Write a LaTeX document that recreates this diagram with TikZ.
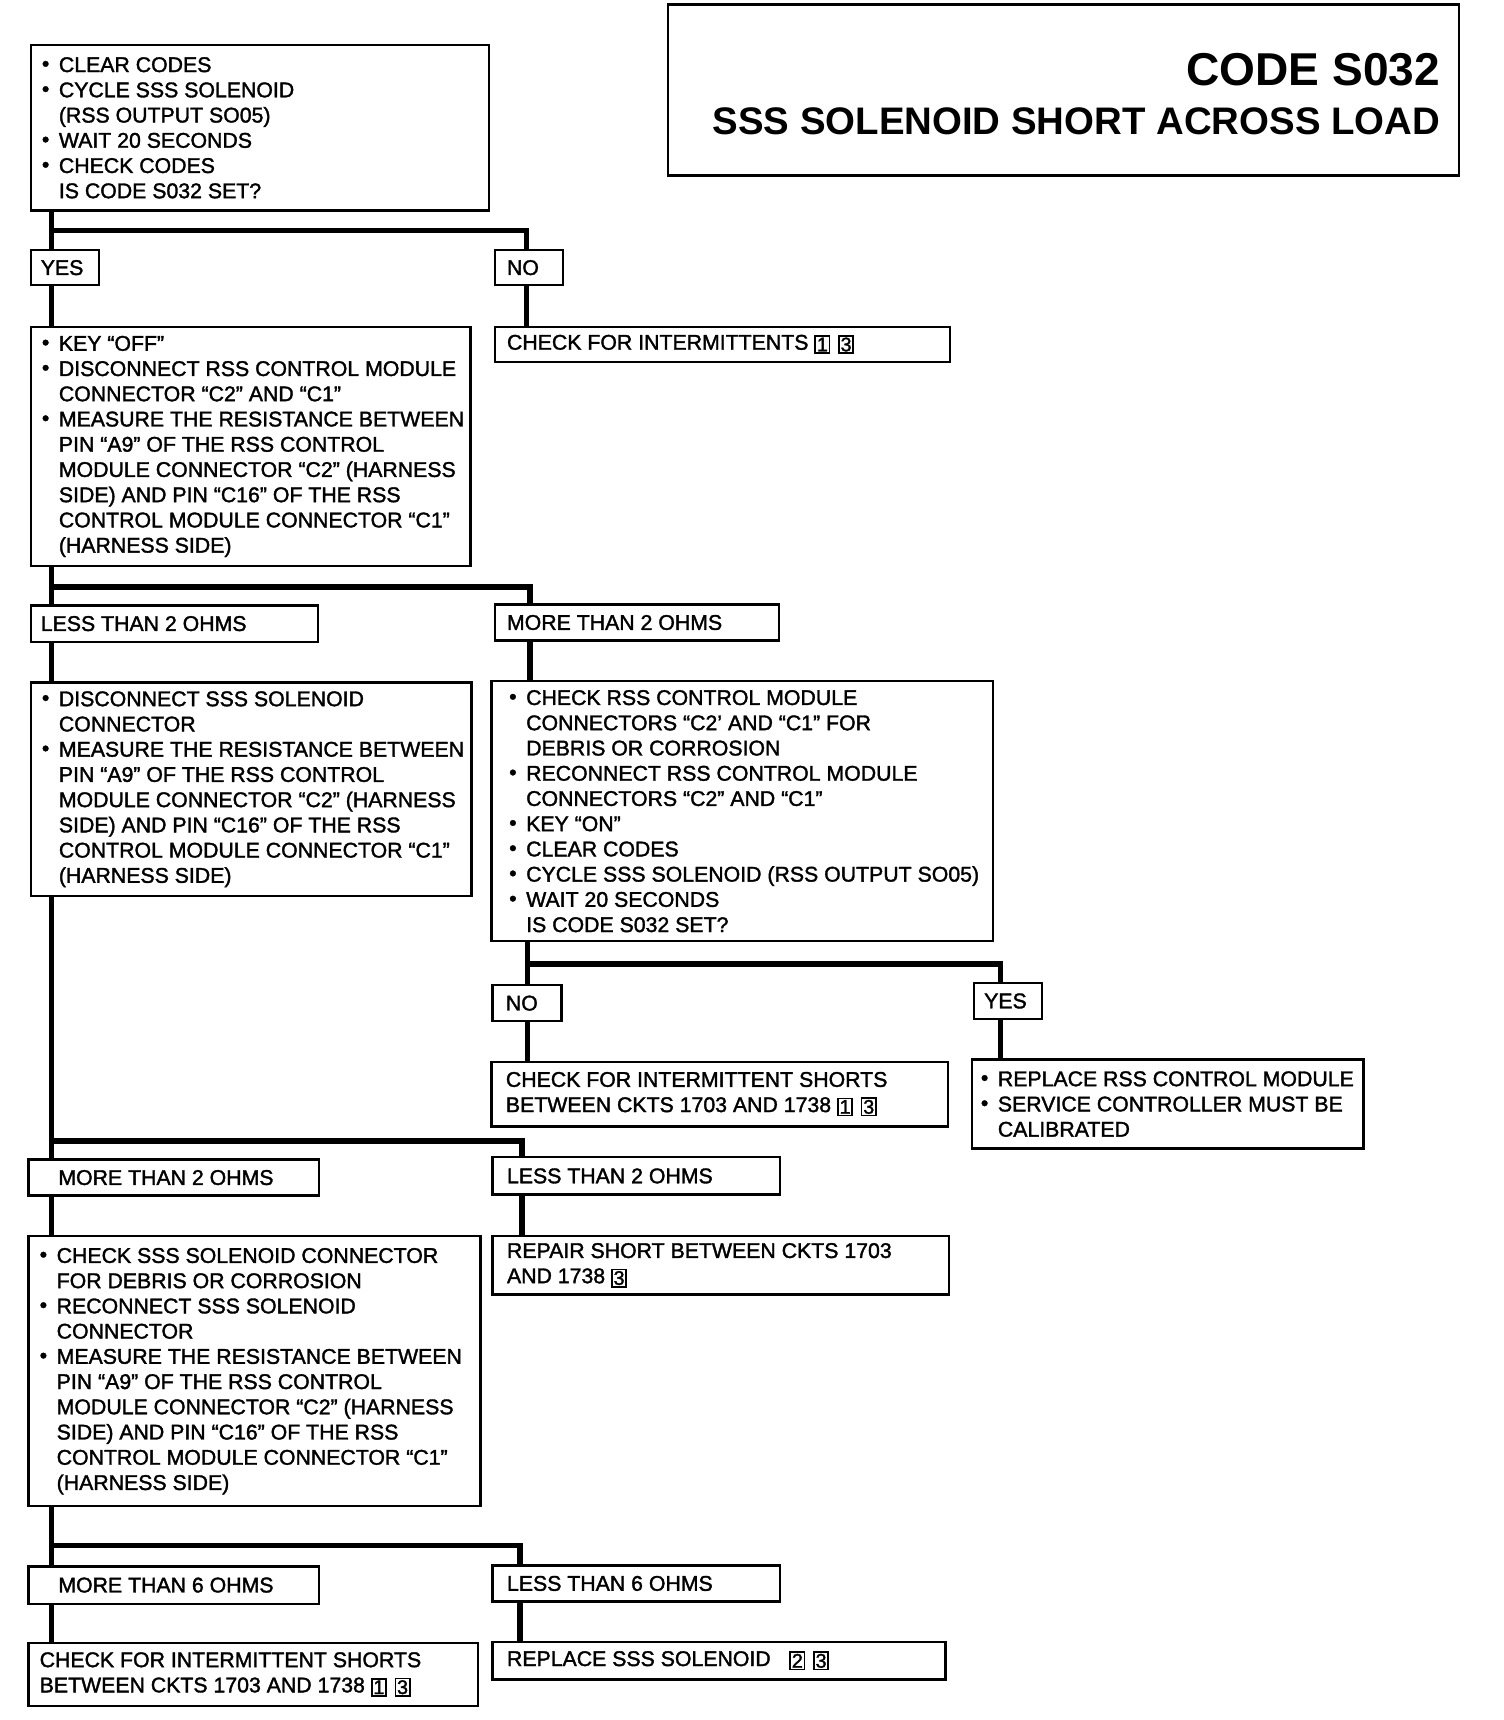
\documentclass[tikz,border=0pt]{standalone}
\usepackage{fontspec}
\setmainfont[FakeBold=1.6]{Liberation Sans}
\newfontfamily\ttlfont{Liberation Sans Bold}
\newcommand{\bl}{\makebox[15.5pt][l]{\raisebox{1pt}{•}}}
\newcommand{\ind}{\hspace*{15.5pt}}
\newcommand{\nbx}[1]{{\setlength{\fboxsep}{0.8pt}\setlength{\fboxrule}{1.5pt}\raisebox{-1.5pt}{\fbox{\makebox[10pt]{\fontsize{18}{18}\selectfont #1}}}}}
\begin{document}
\begin{tikzpicture}[x=1pt,y=-1pt,
  bx/.style={draw, line width=2.2pt, anchor=north west, inner sep=0pt, outer sep=0pt},
  tx/.style={anchor=west, align=left, inner sep=0pt, font=\fontsize{19.4}{23}\selectfont},
  conn/.style={line width=5pt, line join=miter}]
\fill[white] (0,0) rectangle (1371,1568);
\useasboundingbox (0,0) rectangle (1371,1568);

% title
\node[bx, line width=2.5pt, minimum width=721pt, minimum height=156pt] (title) at (609,4) {};
\node[anchor=base east, inner sep=0pt, font=\ttlfont\fontsize{42}{42}\selectfont] (t1) at (1313,78) {CODE S032};
\node[anchor=base east, inner sep=0pt, font=\ttlfont\fontsize{35}{35}\selectfont] (t2) at (1313,123) {SSS SOLENOID SHORT ACROSS LOAD};

% boxes
\node[bx, minimum width=418pt, minimum height=151pt] (b1) at (28,41) {};
\node[bx, minimum width=62pt, minimum height=32pt] (yes1) at (28,228) {};
\node[bx, minimum width=62pt, minimum height=32pt] (no1) at (451,228) {};
\node[bx, minimum width=415pt, minimum height=32pt] (b3) at (451,298) {};
\node[bx, minimum width=401pt, minimum height=218pt] (b2) at (28,298) {};
\node[bx, minimum width=262pt, minimum height=33pt] (lt2a) at (28,552) {};
\node[bx, minimum width=259pt, minimum height=33pt] (mt2a) at (451,551) {};
\node[bx, minimum width=402pt, minimum height=195pt] (b4) at (28,622) {};
\node[bx, minimum width=457pt, minimum height=237pt] (b5) at (448,621) {};
\node[bx, minimum width=63pt, minimum height=33pt] (no2) at (449,898) {};
\node[bx, minimum width=62pt, minimum height=33pt] (yes2) at (888,896) {};
\node[bx, minimum width=416pt, minimum height=59pt] (b6) at (448,968) {};
\node[bx, minimum width=357pt, minimum height=81pt] (b7) at (886,966) {};
\node[bx, minimum width=265pt, minimum height=33pt] (mt2b) at (26,1057) {};
\node[bx, minimum width=262pt, minimum height=34pt] (lt2b) at (449,1055) {};
\node[bx, minimum width=416pt, minimum height=53pt] (b9) at (449,1127) {};
\node[bx, minimum width=412pt, minimum height=246pt] (b8) at (26,1127) {};
\node[bx, minimum width=265pt, minimum height=34pt] (mt6) at (26,1428) {};
\node[bx, minimum width=262pt, minimum height=33pt] (lt6) at (449,1427) {};
\node[bx, minimum width=410pt, minimum height=57pt] (b10) at (26,1498) {};
\node[bx, minimum width=413pt, minimum height=34pt] (b11) at (449,1497) {};

% texts
\node[tx] (b1t) at ([xshift=10pt]b1.west) {\bl CLEAR CODES\\ \bl CYCLE SSS SOLENOID\\ \ind (RSS OUTPUT SO05)\\ \bl WAIT 20 SECONDS\\ \bl CHECK CODES\\ \ind IS CODE S032 SET?};
\node[tx] (yes1t) at ([xshift=9pt]yes1.west) {YES};
\node[tx] (no1t) at ([xshift=11pt]no1.west) {NO};
\node[tx] (b3t) at ([xshift=11pt]b3.west) {CHECK FOR INTERMITTENTS \nbx{1}\hspace{7pt}\nbx{3}};
\node[tx] (b2t) at ([xshift=10pt]b2.west) {\bl KEY “OFF”\\ \bl DISCONNECT RSS CONTROL MODULE\\ \ind CONNECTOR “C2” AND “C1”\\ \bl MEASURE THE RESISTANCE BETWEEN\\ \ind PIN “A9” OF THE RSS CONTROL\\ \ind MODULE CONNECTOR “C2” (HARNESS\\ \ind SIDE) AND PIN “C16” OF THE RSS\\ \ind CONTROL MODULE CONNECTOR “C1”\\ \ind (HARNESS SIDE)};
\node[tx] (lt2at) at ([xshift=9pt]lt2a.west) {LESS THAN 2 OHMS};
\node[tx] (mt2at) at ([xshift=11pt]mt2a.west) {MORE THAN 2 OHMS};
\node[tx] (b4t) at ([xshift=10pt]b4.west) {\bl DISCONNECT SSS SOLENOID\\ \ind CONNECTOR\\ \bl MEASURE THE RESISTANCE BETWEEN\\ \ind PIN “A9” OF THE RSS CONTROL\\ \ind MODULE CONNECTOR “C2” (HARNESS\\ \ind SIDE) AND PIN “C16” OF THE RSS\\ \ind CONTROL MODULE CONNECTOR “C1”\\ \ind (HARNESS SIDE)};
\node[tx] (b5t) at ([xshift=16pt]b5.west) {\bl CHECK RSS CONTROL MODULE\\ \ind CONNECTORS “C2’ AND “C1” FOR\\ \ind DEBRIS OR CORROSION\\ \bl RECONNECT RSS CONTROL MODULE\\ \ind CONNECTORS “C2” AND “C1”\\ \bl KEY “ON”\\ \bl CLEAR CODES\\ \bl CYCLE SSS SOLENOID (RSS OUTPUT SO05)\\ \bl WAIT 20 SECONDS\\ \ind IS CODE S032 SET?};
\node[tx] (no2t) at ([xshift=12pt]no2.west) {NO};
\node[tx] (yes2t) at ([xshift=9pt]yes2.west) {YES};
\node[tx] (b6t) at ([xshift=13pt]b6.west) {CHECK FOR INTERMITTENT SHORTS\\ BETWEEN CKTS 1703 AND 1738 \nbx{1}\hspace{7pt}\nbx{3}};
\node[tx] (b7t) at ([xshift=8pt]b7.west) {\bl REPLACE RSS CONTROL MODULE\\ \bl SERVICE CONTROLLER MUST BE\\ \ind CALIBRATED};
\node[tx] (mt2bt) at ([xshift=27pt]mt2b.west) {MORE THAN 2 OHMS};
\node[tx] (lt2bt) at ([xshift=13pt]lt2b.west) {LESS THAN 2 OHMS};
\node[tx] (b9t) at ([xshift=13pt]b9.west) {REPAIR SHORT BETWEEN CKTS 1703\\ AND 1738 \nbx{3}};
\node[tx] (b8t) at ([xshift=10pt]b8.west) {\bl CHECK SSS SOLENOID CONNECTOR\\ \ind FOR DEBRIS OR CORROSION\\ \bl RECONNECT SSS SOLENOID\\ \ind CONNECTOR\\ \bl MEASURE THE RESISTANCE BETWEEN\\ \ind PIN “A9” OF THE RSS CONTROL\\ \ind MODULE CONNECTOR “C2” (HARNESS\\ \ind SIDE) AND PIN “C16” OF THE RSS\\ \ind CONTROL MODULE CONNECTOR “C1”\\ \ind (HARNESS SIDE)};
\node[tx] (mt6t) at ([xshift=27pt]mt6.west) {MORE THAN 6 OHMS};
\node[tx] (lt6t) at ([xshift=13pt]lt6.west) {LESS THAN 6 OHMS};
\node[tx] (b10t) at ([xshift=10pt]b10.west) {CHECK FOR INTERMITTENT SHORTS\\ BETWEEN CKTS 1703 AND 1738 \nbx{1}\hspace{7pt}\nbx{3}};
\node[tx] (b11t) at ([xshift=13pt]b11.west) {REPLACE SSS SOLENOID\hspace{17pt}\nbx{2}\hspace{7pt}\nbx{3}};

% connector x positions
\coordinate (xA) at (47,0);
\coordinate (xB) at (480,0);
\coordinate (xC) at (483,0);
\coordinate (xD) at (481,0);
\coordinate (xE) at (912,0);
\coordinate (xF) at (476,0);
\coordinate (xG) at (474,0);

% connectors
\draw[conn] (b1.south -| xA) -- (yes1.north -| xA);
\draw[conn] (b1.south -| xA) ++(0,18) -| (no1.north -| xB);
\draw[conn] (yes1.south -| xA) -- (b2.north -| xA);
\draw[conn] (no1.south -| xB) -- (b3.north -| xB);
\draw[conn] (b2.south -| xA) -- (lt2a.north -| xA);
\draw[conn] (b2.south -| xA) ++(0,19) -| (mt2a.north -| xC);
\draw[conn] (lt2a.south -| xA) -- (b4.north -| xA);
\draw[conn] (mt2a.south -| xC) -- (b5.north -| xC);
\draw[conn] (b5.south -| xD) -- (no2.north -| xD);
\draw[conn] (b5.south -| xD) ++(0,21) -| (yes2.north -| xE);
\draw[conn] (no2.south -| xD) -- (b6.north -| xD);
\draw[conn] (yes2.south -| xE) -- (b7.north -| xE);
\draw[conn] (b4.south -| xA) -- (mt2b.north -| xA);
\draw[conn] (b4.south -| xA) ++(0,223) -| (lt2b.north -| xF);
\draw[conn] (mt2b.south -| xA) -- (b8.north -| xA);
\draw[conn] (lt2b.south -| xF) -- (b9.north -| xF);
\draw[conn] (b8.south -| xA) -- (mt6.north -| xA);
\draw[conn] (b8.south -| xA) ++(0,36) -| (lt6.north -| xG);
\draw[conn] (mt6.south -| xA) -- (b10.north -| xA);
\draw[conn] (lt6.south -| xG) -- (b11.north -| xG);
\end{tikzpicture}
\end{document}
